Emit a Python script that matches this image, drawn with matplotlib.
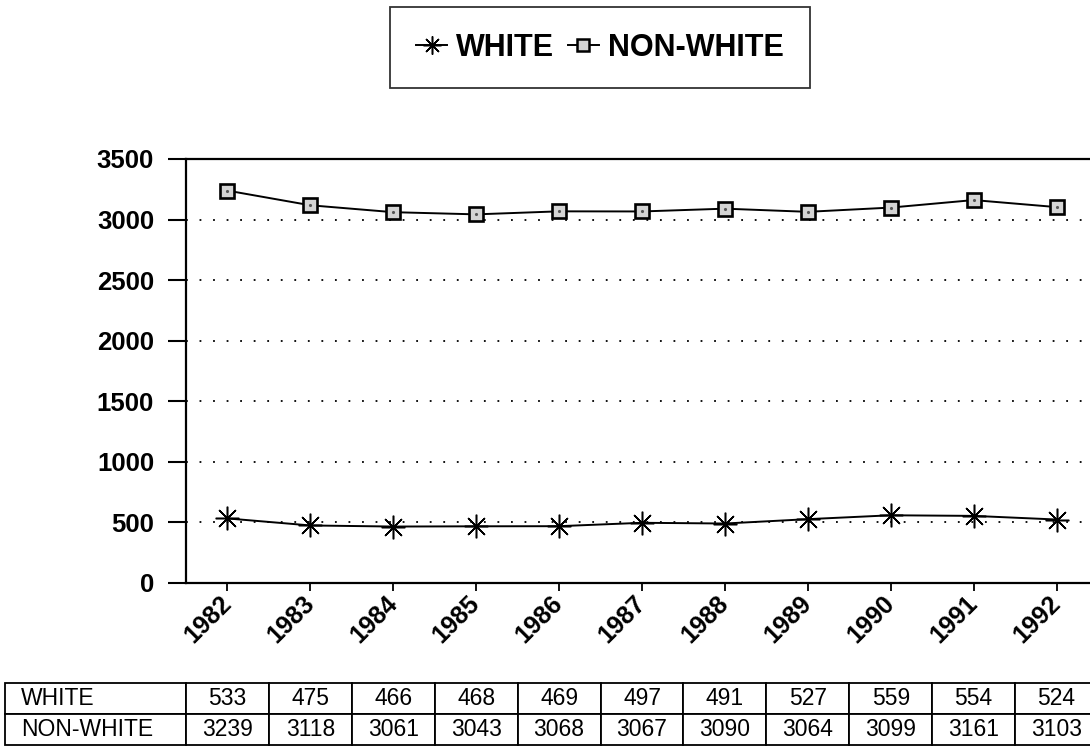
import matplotlib
matplotlib.use("Agg")
import matplotlib.pyplot as plt
from matplotlib.lines import Line2D
from matplotlib.transforms import ScaledTranslation

plt.rcParams['font.family'] = ['Liberation Sans', 'DejaVu Sans']

years = ['1982', '1983', '1984', '1985', '1986', '1987', '1988', '1989', '1990', '1991', '1992']
white = [533, 475, 466, 468, 469, 497, 491, 527, 559, 554, 524]
non_white = [3239, 3118, 3061, 3043, 3068, 3067, 3090, 3064, 3099, 3161, 3103]
series_names = ['WHITE', 'NON-WHITE']
y_ticks = [0, 500, 1000, 1500, 2000, 2500, 3000, 3500]

W, H = 1090, 746
fig = plt.figure(figsize=(W / 100, H / 100), dpi=100)

# plot area in pixel terms: left 186, bottom edge at y=583, top at y=159
ax_left, ax_bottom, ax_w, ax_h = 186, 583, 912, 424
ax = fig.add_axes([ax_left / W, 1 - ax_bottom / H, ax_w / W, ax_h / H])

x = list(range(len(years)))

star = (8, 2, 0)
ax.plot(x, white, color='black', lw=1.4, marker=star,
        markersize=17, markeredgewidth=1.1, markeredgecolor='black', zorder=3)
ax.plot(x, non_white, color='black', lw=1.4, marker='s',
        markersize=9.5, markerfacecolor='#d4d4d4',
        markeredgecolor='black', markeredgewidth=1.9, zorder=3)
# stipple inside the square markers
ax.plot(x, non_white, linestyle='none', marker='.', markersize=2.5,
        color='#555555', zorder=4)

ax.set_xlim(-0.5, len(years) - 0.5)
ax.set_ylim(0, 3500)
ax.set_yticks(y_ticks)
ax.set_yticklabels([str(v) for v in y_ticks], fontsize=18.5, fontweight='bold')
ax.set_xticks(x)
ax.set_xticklabels(years, fontsize=18, fontweight='bold', rotation=45,
                   ha='right', va='center', rotation_mode='anchor')
shift = ScaledTranslation(5 / 100, -4 / 100, fig.dpi_scale_trans)
for lbl in ax.get_xticklabels():
    lbl.set_transform(lbl.get_transform() + shift)

ax.tick_params(axis='y', direction='out', length=13, width=1.5, pad=10)
ax.tick_params(axis='x', direction='out', length=6, width=1.3, pad=6)

for side in ['left', 'bottom', 'top']:
    ax.spines[side].set_linewidth(1.6)
ax.spines['right'].set_visible(False)

# dotted reference lines at the inner tick values
for v in y_ticks[1:-1]:
    ax.axhline(v, color='black', lw=1.3, linestyle=(0, (1, 6.5)), zorder=1)

# data table below the chart
cell_text = [[str(v) for v in white], [str(v) for v in non_white]]
first_col = (ax_left - 5) / ax_w
tbl_top = (ax_bottom - 683) / ax_h
tbl_bot = (ax_bottom - 745) / ax_h
table = ax.table(cellText=cell_text, cellLoc='center',
                 colWidths=[1 / len(years)] * len(years),
                 bbox=[0, tbl_bot, 1, tbl_top - tbl_bot])
row_h = table[0, 0].get_height()
for r, name in enumerate(series_names):
    table.add_cell(r, -1, width=first_col, height=row_h, text=name, loc='left')
table.auto_set_font_size(False)
for (r, c), cell in table.get_celld().items():
    cell.set_linewidth(1.3)
    cell.set_edgecolor('black')
    cell.set_text_props(fontsize=16.5)
    if c == -1:
        cell.PAD = 0.09

# legend box at the top
h_white = Line2D([], [], color='black', lw=1.4, marker=star, markersize=13,
                 markeredgewidth=1.1)
h_non = Line2D([], [], color='black', lw=1.4, marker='s', markersize=8,
               markerfacecolor='#d4d4d4', markeredgecolor='black',
               markeredgewidth=1.8)
leg = fig.legend([h_white, h_non], series_names, loc='center',
                 bbox_to_anchor=(600 / W, 1 - 47.5 / H), ncol=2, frameon=True,
                 fancybox=False, edgecolor='black', handlelength=1.0,
                 handletextpad=0.3, columnspacing=0.45, borderpad=0.85,
                 prop={'size': 22, 'weight': 'bold'})
leg.get_frame().set_linewidth(1.3)

fig.savefig('out.png', dpi=100)
